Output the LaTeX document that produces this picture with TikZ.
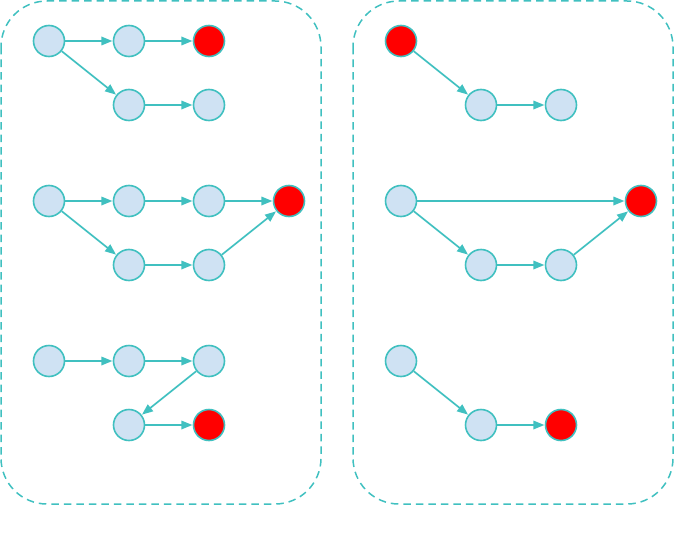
\documentclass[tikz,border=0pt]{standalone}
\usetikzlibrary{arrows.meta}
\definecolor{teal1}{RGB}{64,192,192}
\definecolor{nodefill}{RGB}{207,226,243}
\definecolor{hot}{RGB}{255,0,0}
\begin{document}
\begin{tikzpicture}[x=1pt,y=-1pt,
  nd/.style={circle,draw=teal1,line width=1.6pt,fill=nodefill,minimum size=31pt,inner sep=0pt},
  rd/.style={nd,fill=hot},
  edge/.style={draw=teal1,line width=1.7pt,-{Triangle[length=11pt,width=8.5pt]},shorten >=0.3pt},
  grp/.style={draw=teal1,line width=1.5pt,dash pattern=on 7.5pt off 5pt,rounded corners=46pt}]
\useasboundingbox (0,0) rectangle (674,543);
\draw[grp] (1,1) rectangle (321,504);
\draw[grp] (353,1) rectangle (673,504);
% left group 1
\node[nd] (a1) at (49,41) {};
\node[nd] (a2) at (129,41) {};
\node[rd] (a3) at (209,41) {};
\node[nd] (a4) at (129,105) {};
\node[nd] (a5) at (209,105) {};
\draw[edge] (a1) -- (a2);
\draw[edge] (a2) -- (a3);
\draw[edge] (a1) -- (a4);
\draw[edge] (a4) -- (a5);
% left group 2
\node[nd] (b1) at (49,201) {};
\node[nd] (b2) at (129,201) {};
\node[nd] (b3) at (209,201) {};
\node[rd] (b4) at (289,201) {};
\node[nd] (b5) at (129,265) {};
\node[nd] (b6) at (209,265) {};
\draw[edge] (b1) -- (b2);
\draw[edge] (b2) -- (b3);
\draw[edge] (b3) -- (b4);
\draw[edge] (b1) -- (b5);
\draw[edge] (b5) -- (b6);
\draw[edge] (b6) -- (b4);
% left group 3
\node[nd] (c1) at (49,361) {};
\node[nd] (c2) at (129,361) {};
\node[nd] (c3) at (209,361) {};
\node[nd] (c4) at (129,425) {};
\node[rd] (c5) at (209,425) {};
\draw[edge] (c1) -- (c2);
\draw[edge] (c2) -- (c3);
\draw[edge] (c3) -- (c4);
\draw[edge] (c4) -- (c5);
% right group 1
\node[rd] (d1) at (401,41) {};
\node[nd] (d2) at (481,105) {};
\node[nd] (d3) at (561,105) {};
\draw[edge] (d1) -- (d2);
\draw[edge] (d2) -- (d3);
% right group 2
\node[nd] (e1) at (401,201) {};
\node[rd] (e2) at (641,201) {};
\node[nd] (e3) at (481,265) {};
\node[nd] (e4) at (561,265) {};
\draw[edge] (e1) -- (e2);
\draw[edge] (e1) -- (e3);
\draw[edge] (e3) -- (e4);
\draw[edge] (e4) -- (e2);
% right group 3
\node[nd] (f1) at (401,361) {};
\node[nd] (f2) at (481,425) {};
\node[rd] (f3) at (561,425) {};
\draw[edge] (f1) -- (f2);
\draw[edge] (f2) -- (f3);
\end{tikzpicture}
\end{document}
